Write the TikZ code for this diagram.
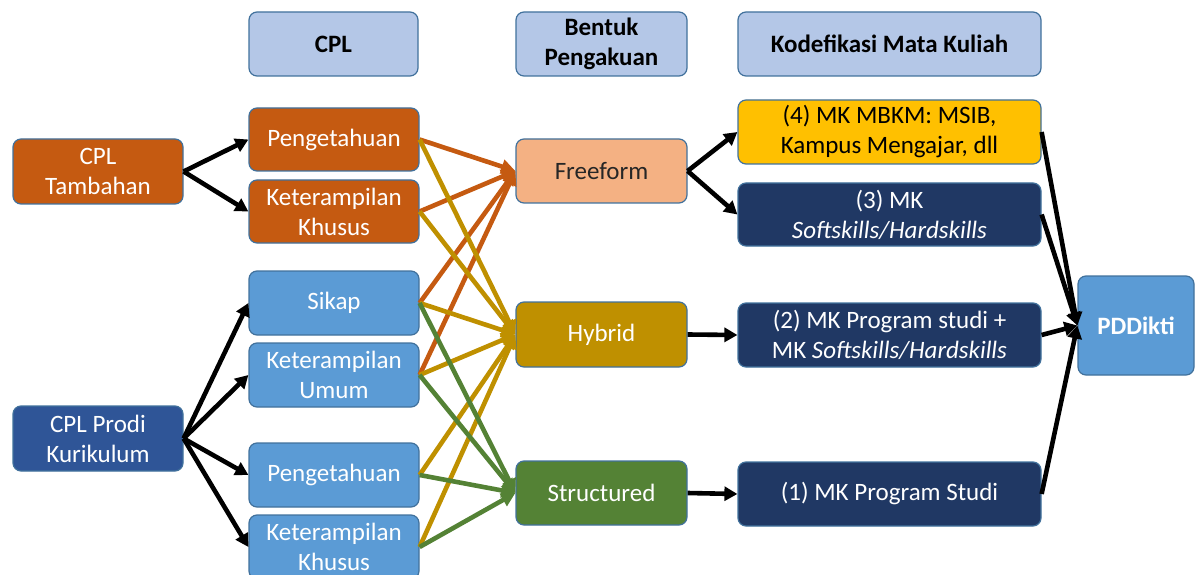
\documentclass[tikz,border=0pt]{standalone}
\usepackage{fontspec}
\setmainfont{Carlito}
\usetikzlibrary{arrows.meta}

\definecolor{cOrange}{HTML}{C55A11}
\definecolor{cLight}{HTML}{5B9BD5}
\definecolor{cProdi}{HTML}{2F5597}
\definecolor{cNavy}{HTML}{203864}
\definecolor{cHead}{HTML}{B4C7E7}
\definecolor{cFree}{HTML}{F4B183}
\definecolor{cHybrid}{HTML}{BF9000}
\definecolor{cStruct}{HTML}{548235}
\definecolor{cMbkm}{HTML}{FFC000}
\definecolor{cEdge}{HTML}{41719C}

\tikzset{
  box/.style={draw=cEdge, line width=1.2pt, rounded corners=8pt, inner sep=0pt,
    align=center, font=\fontsize{25}{30}\selectfont, text=white},
  head/.style={box, fill=cHead, text=black, font=\fontsize{25}{30}\selectfont\bfseries},
  link/.style={line width=4.6pt, -{Triangle[length=14pt,width=14pt]}},
  blk/.style={line width=4.6pt, black, -{Triangle[length=13pt,width=14pt]}},
}

\begin{document}
\begin{tikzpicture}[x=1pt,y=-1pt]
\useasboundingbox (0,0) rectangle (1195,575);
\clip (0,0) rectangle (1195,575);

% column headers
\node[head, minimum width=169pt, minimum height=64pt] (hcpl) at (333.5,44) {CPL};
\node[head, minimum width=171pt, minimum height=64pt] (hbp) at (601.5,44) {Bentuk\\Pengakuan};
\node[head, minimum width=303pt, minimum height=64pt] (hkm) at (889.5,44) {Kodefikasi Mata Kuliah};

% sources
\node[box, fill=cOrange, minimum width=170pt, minimum height=65pt] (tamb) at (98,171.5) {CPL\\Tambahan};
\node[box, fill=cProdi, minimum width=170pt, minimum height=65pt] (prodi) at (98,438.5) {CPL Prodi\\Kurikulum};

% CPL components
\node[box, fill=cOrange, minimum width=170pt, minimum height=63pt] (po) at (334,139.5) {Pengetahuan};
\node[box, fill=cOrange, minimum width=170pt, minimum height=63pt] (ko) at (334,211.5) {Keterampilan\\Khusus};
\node[box, fill=cLight, minimum width=170pt, minimum height=64pt] (sk) at (334,303) {Sikap};
\node[box, fill=cLight, minimum width=170pt, minimum height=64pt] (ku) at (334,375) {Keterampilan\\Umum};
\node[box, fill=cLight, minimum width=170pt, minimum height=64pt] (pb) at (334,475) {Pengetahuan};
\node[box, fill=cLight, minimum width=170pt, minimum height=64pt] (kb) at (334,547) {Keterampilan\\Khusus};

% recognition forms
\node[box, fill=cFree, text=black!85, minimum width=171pt, minimum height=64pt] (ff) at (601.5,171) {Freeform};
\node[box, fill=cHybrid, minimum width=171pt, minimum height=65pt] (hy) at (601.5,334.5) {Hybrid};
\node[box, fill=cStruct, minimum width=171pt, minimum height=64pt] (st) at (601.5,493) {Structured};

% course codes
\node[box, fill=cMbkm, text=black, minimum width=303pt, minimum height=64pt] (m4) at (889.5,132) {(4) MK MBKM: MSIB,\\Kampus Mengajar, dll};
\node[box, fill=cNavy, minimum width=303pt, minimum height=63pt] (m3) at (889.5,214.5) {(3) MK\\\textit{Softskills/Hardskills}};
\node[box, fill=cNavy, minimum width=303pt, minimum height=64pt] (m2) at (889.5,335) {(2) MK Program studi +\\MK \textit{Softskills/Hardskills}};
\node[box, fill=cNavy, minimum width=303pt, minimum height=64pt] (m1) at (889.5,494) {(1) MK Program Studi};

% target
\node[box, fill=cLight, font=\fontsize{25}{30}\selectfont\bfseries, minimum width=116pt, minimum height=99pt] (pd) at (1136,325.5) {PDDikti};

% source to components
\draw[blk] (tamb.east) -- (po.west);
\draw[blk] (tamb.east) -- (ko.west);
\draw[blk] (prodi.east) -- (sk.west);
\draw[blk] (prodi.east) -- (ku.west);
\draw[blk] (prodi.east) -- (pb.west);
\draw[blk] (prodi.east) -- (kb.west);

% components to recognition forms
\foreach \s in {po,ko,sk,ku} \draw[link, cOrange] (\s.east) -- (ff.west);
\foreach \s in {po,ko,sk,ku,pb,kb} \draw[link, cHybrid] (\s.east) -- (hy.west);
\foreach \s in {sk,ku,pb,kb} \draw[link, cStruct] (\s.east) -- (st.west);

% recognition forms to course codes
\draw[blk] (ff.east) -- (m4.west);
\draw[blk] (ff.east) -- (m3.west);
\draw[blk] (hy.east) -- (m2.west);
\draw[blk] (st.east) -- (m1.west);

% course codes to PDDikti
\foreach \m in {m4,m3,m2,m1} \draw[blk] (\m.east) -- (pd.west);
\end{tikzpicture}
\end{document}
